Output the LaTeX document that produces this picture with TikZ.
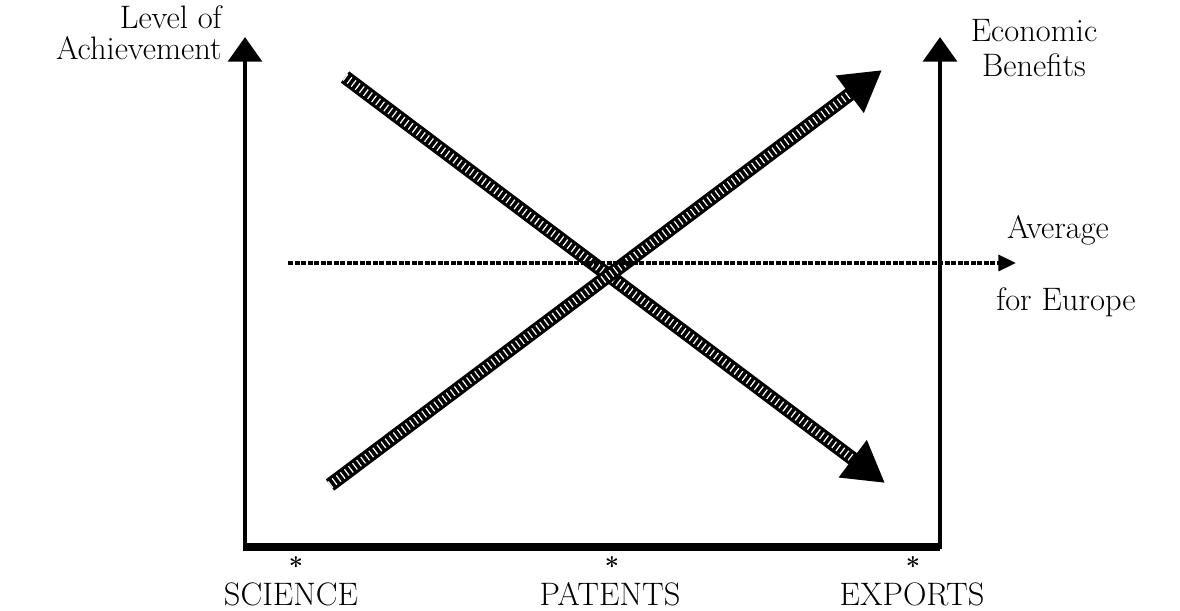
\documentclass[tikz,border=0pt]{standalone}
\usetikzlibrary{positioning, arrows.meta, calc}
\tikzset{
  axisline/.style={line width=2.8pt, -{Triangle[length=14pt, width=19pt]}},
  baseline/.style={line width=5pt},
  hatcharrow/.style={line width=8pt, -{Triangle[length=23pt, width=25pt]}},
  hatchstripes/.style={line width=4.5pt, white, dash pattern=on 0.7pt off 2.2pt},
  avgline/.style={line width=2pt, dash pattern=on 3pt off 0.7pt, -{Triangle[length=10pt, width=9pt]}},
  lbl/.style={font=\fontsize{18.5}{18}\selectfont},
  starmark/.style={font=\Large\bfseries, inner sep=0pt},
}

\begin{document}
\begin{tikzpicture}[x=0.02cm, y=-0.02cm]
\useasboundingbox (0,0) rectangle (1180,610);
% axes
\coordinate (o) at (243,547);
\coordinate (e) at (940,547);
\coordinate (ltop) at (245,37);
\coordinate (rtop) at (940,37);
\draw[axisline] (245,549) -- (ltop);
\draw[axisline] (940,549) -- (rtop);
\draw[baseline] (o) -- (e);
% the two trends
\coordinate (sa) at (345,77);
\coordinate (sb) at (885,483);
\coordinate (ea) at (330,485);
\coordinate (eb) at (882,70);
\draw[hatcharrow] (sa) -- (sb);
\draw[hatchstripes] (sa) -- ($(sa)!0.94!(sb)$);
\draw[hatcharrow] (ea) -- (eb);
\draw[hatchstripes] (ea) -- ($(ea)!0.94!(eb)$);
% average line
\coordinate (avs) at (288,263);
\coordinate (ave) at (1016,263);
\draw[avgline] (avs) -- (ave);
% labels
\node[lbl, align=right, anchor=north east, inner sep=0pt] at (222,5) (level) {Level of\\Achievement};
\node[lbl, align=center, inner sep=0pt] at (1034,48) (econ) {Economic\\[2pt]Benefits};
\node[lbl] at (1058,230) (avg) {Average};
\node[lbl] at (1066,302) (eur) {for Europe};
\node[starmark] at (296,566) (s1) {*};
\node[starmark] at (612,566) (s2) {*};
\node[starmark] at (913,566) (s3) {*};
\node[lbl] at (291,594) (sci) {SCIENCE};
\node[lbl] at (610,594) (pat) {PATENTS};
\node[lbl] at (912,594) (exp) {EXPORTS};
\end{tikzpicture}
\end{document}
